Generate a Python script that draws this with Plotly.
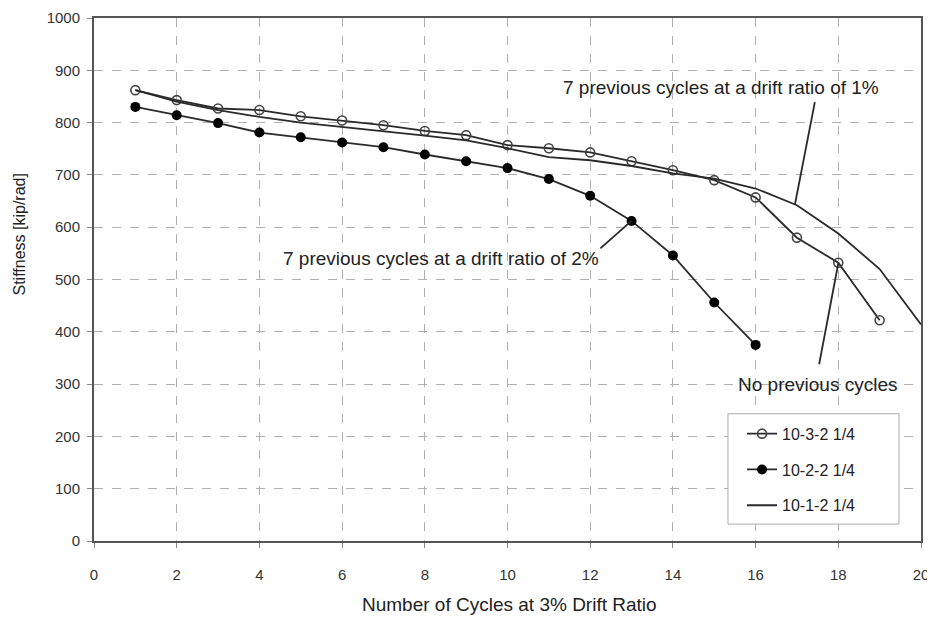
import plotly.graph_objects as go

cycles_a = list(range(1, 20))
stiff_a = [862, 843, 827, 824, 812, 804, 795, 784, 776, 757, 751, 743, 726, 709, 690, 657, 580, 532, 422]

cycles_b = list(range(1, 17))
stiff_b = [830, 814, 799, 781, 772, 762, 753, 739, 726, 713, 692, 660, 612, 546, 456, 375]

cycles_c = list(range(1, 21))
stiff_c = [862, 840, 824, 811, 800, 792, 784, 775, 766, 751, 734, 728, 717, 703, 693, 674, 642, 588, 520, 414]

names = ["10-3-2 1/4", "10-2-2 1/4", "10-1-2 1/4"]

FONT = "Liberation Sans, Arial, sans-serif"
LC = "#2a2a2a"
TXT = "#222"

fig = go.Figure()
fig.add_trace(go.Scatter(x=cycles_a, y=stiff_a, name=names[0], legendgroup="a", mode="lines+markers",
                         line=dict(color=LC, width=1.8),
                         marker=dict(symbol="circle-open", size=9, color="#444", line=dict(width=1.6))))
fig.add_trace(go.Scatter(x=cycles_b, y=stiff_b, name=names[1], legendgroup="b", mode="lines+markers",
                         line=dict(color=LC, width=1.8),
                         marker=dict(symbol="circle", size=10, color="#000")))
fig.add_trace(go.Scatter(x=cycles_c, y=stiff_c, name=names[2], legendgroup="c", mode="lines",
                         line=dict(color=LC, width=1.8)))

ann_font = dict(family=FONT, size=19, color=TXT)
fig.add_annotation(x=16.95, y=643, ax=17.44, ay=842, axref="x", ayref="y", xref="x", yref="y",
                   text="", showarrow=True, arrowhead=0, arrowwidth=1.8, arrowcolor=LC)
fig.add_annotation(x=15.17, y=867, xref="x", yref="y", text="7 previous cycles at a drift ratio of 1%",
                   showarrow=False, font=ann_font)
fig.add_annotation(x=13, y=612, ax=12.21, ay=557, axref="x", ayref="y", xref="x", yref="y",
                   text="", showarrow=True, arrowhead=0, arrowwidth=1.8, arrowcolor=LC)
fig.add_annotation(x=8.4, y=540, xref="x", yref="y", text="7 previous cycles at a drift ratio of 2%",
                   showarrow=False, font=ann_font)
fig.add_annotation(x=18, y=531, ax=17.53, ay=335, axref="x", ayref="y", xref="x", yref="y",
                   text="", showarrow=True, arrowhead=0, arrowwidth=1.8, arrowcolor=LC)
fig.add_annotation(x=17.5, y=300, xref="x", yref="y", text="No previous cycles",
                   showarrow=False, font=ann_font)

# axis titles
fig.add_annotation(x=0.502, y=-0.122, xref="paper", yref="paper", xanchor="center", yanchor="middle",
                   text="Number of Cycles at 3% Drift Ratio",
                   showarrow=False, font=dict(family=FONT, size=19, color=TXT))
fig.add_annotation(x=-0.0895, y=0.586, xref="paper", yref="paper", xanchor="center", yanchor="middle",
                   text="Stiffness [kip/rad]",
                   textangle=-90, showarrow=False, font=dict(family=FONT, size=16, color=TXT))

# legend frame
fig.add_shape(type="rect", xref="paper", yref="paper", x0=0.7666, x1=0.9734, y0=0.0323, y1=0.2433,
              layer="above", fillcolor="white", line=dict(color="#aaa", width=1))

axis_common = dict(showline=True, linecolor="#555", linewidth=2, mirror=True,
                   ticks="outside", ticklen=5, tickcolor="#888", automargin=False,
                   ticklabeloverflow="allow",
                   showgrid=True, gridcolor="#b0b0b0", griddash="dash", gridwidth=1,
                   zeroline=False, tickfont=dict(family=FONT, size=15, color="#333"))

fig.update_xaxes(range=[0, 20], dtick=2, tick0=0, ticklabelstandoff=14, **axis_common)
fig.update_yaxes(range=[0, 1000], dtick=100, tick0=0, ticklabelstandoff=4, **axis_common)

fig.update_layout(
    width=935, height=621,
    margin=dict(l=86, r=22, t=10, b=88),
    plot_bgcolor="white", paper_bgcolor="white",
    font=dict(family=FONT),
    showlegend=True,
    legend=dict(x=0.7836, y=0.2376, xanchor="left", yanchor="top",
                bgcolor="rgba(0,0,0,0)", borderwidth=0,
                font=dict(family=FONT, size=16, color=TXT),
                traceorder="grouped", tracegroupgap=12, itemwidth=30),
)

fig.write_html("out.html")
